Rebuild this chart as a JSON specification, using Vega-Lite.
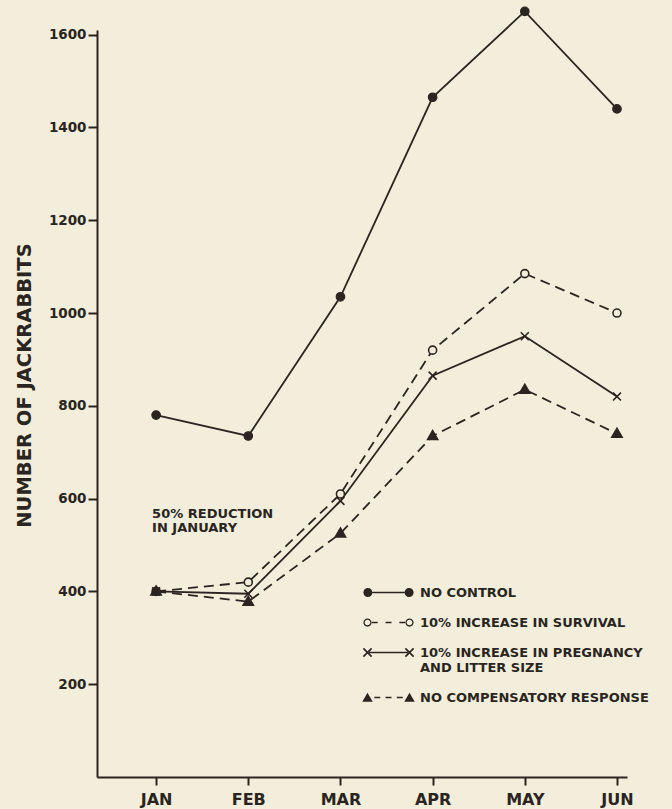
{
  "$schema": "https://vega.github.io/schema/vega-lite/v6.json",
  "autosize": {"type": "none"},
  "padding": {"left": 97, "top": 30, "right": 45, "bottom": 32},
  "width": 530,
  "height": 747,
  "background": "#f3eedb",
  "config": {
    "view": {"stroke": null},
    "font": "DejaVu Sans",
    "axis": {
      "grid": false,
      "domainColor": "#2a2520",
      "domainWidth": 2,
      "tickColor": "#2a2520",
      "tickWidth": 2,
      "labelColor": "#2a2520",
      "labelFont": "DejaVu Sans",
      "labelFontWeight": "bold",
      "titleColor": "#2a2520",
      "titleFont": "DejaVu Sans"
    }
  },
  "data": {
    "values": [
      {"month": "JAN", "series": "NO CONTROL", "value": 780},
      {"month": "FEB", "series": "NO CONTROL", "value": 735},
      {"month": "MAR", "series": "NO CONTROL", "value": 1035},
      {"month": "APR", "series": "NO CONTROL", "value": 1465},
      {"month": "MAY", "series": "NO CONTROL", "value": 1650},
      {"month": "JUN", "series": "NO CONTROL", "value": 1440},
      {"month": "JAN", "series": "10% INCREASE IN SURVIVAL", "value": 400},
      {"month": "FEB", "series": "10% INCREASE IN SURVIVAL", "value": 420},
      {"month": "MAR", "series": "10% INCREASE IN SURVIVAL", "value": 610},
      {"month": "APR", "series": "10% INCREASE IN SURVIVAL", "value": 920},
      {"month": "MAY", "series": "10% INCREASE IN SURVIVAL", "value": 1085},
      {"month": "JUN", "series": "10% INCREASE IN SURVIVAL", "value": 1000},
      {"month": "JAN", "series": "10% INCREASE IN PREGNANCY AND LITTER SIZE", "value": 400},
      {"month": "FEB", "series": "10% INCREASE IN PREGNANCY AND LITTER SIZE", "value": 395},
      {"month": "MAR", "series": "10% INCREASE IN PREGNANCY AND LITTER SIZE", "value": 595},
      {"month": "APR", "series": "10% INCREASE IN PREGNANCY AND LITTER SIZE", "value": 865},
      {"month": "MAY", "series": "10% INCREASE IN PREGNANCY AND LITTER SIZE", "value": 950},
      {"month": "JUN", "series": "10% INCREASE IN PREGNANCY AND LITTER SIZE", "value": 820},
      {"month": "JAN", "series": "NO COMPENSATORY RESPONSE", "value": 400},
      {"month": "FEB", "series": "NO COMPENSATORY RESPONSE", "value": 378},
      {"month": "MAR", "series": "NO COMPENSATORY RESPONSE", "value": 525},
      {"month": "APR", "series": "NO COMPENSATORY RESPONSE", "value": 735},
      {"month": "MAY", "series": "NO COMPENSATORY RESPONSE", "value": 835},
      {"month": "JUN", "series": "NO COMPENSATORY RESPONSE", "value": 740}
    ]
  },
  "encoding": {
    "x": {
      "field": "month",
      "type": "ordinal",
      "sort": ["JAN", "FEB", "MAR", "APR", "MAY", "JUN"],
      "scale": {"type": "point", "padding": 0.375, "align": 0.855},
      "axis": {
        "title": null,
        "labelAngle": 0,
        "labelFontSize": 16,
        "tickSize": 8,
        "labelPadding": 6
      }
    },
    "y": {
      "field": "value",
      "type": "quantitative",
      "scale": {"domain": [0, 1610], "nice": false, "zero": true},
      "axis": {
        "title": "NUMBER OF JACKRABBITS",
        "values": [200, 400, 600, 800, 1000, 1200, 1400, 1600],
        "format": "d",
        "labelFontSize": 13.5,
        "tickSize": 9,
        "labelPadding": 2,
        "titleFontSize": 19.5,
        "titleFontWeight": "bold",
        "titleX": -63,
        "titleY": 355,
        "titleAngle": -90
      }
    }
  },
  "layer": [
    {
      "transform": [{"filter": "datum.series === 'NO CONTROL' || datum.series === '10% INCREASE IN PREGNANCY AND LITTER SIZE'"}],
      "mark": {"type": "line", "color": "#2a2520", "strokeWidth": 1.8},
      "encoding": {"detail": {"field": "series", "type": "nominal"}}
    },
    {
      "transform": [{"filter": "datum.series === '10% INCREASE IN SURVIVAL' || datum.series === 'NO COMPENSATORY RESPONSE'"}],
      "mark": {"type": "line", "color": "#2a2520", "strokeWidth": 1.8, "strokeDash": [10, 6]},
      "encoding": {"detail": {"field": "series", "type": "nominal"}}
    },
    {
      "transform": [{"filter": "datum.series === 'NO CONTROL'"}],
      "mark": {"type": "point", "shape": "circle", "size": 72, "filled": true, "fill": "#2a2520", "stroke": "#2a2520", "strokeWidth": 1.2, "opacity": 1}
    },
    {
      "transform": [{"filter": "datum.series === '10% INCREASE IN SURVIVAL'"}],
      "mark": {"type": "point", "shape": "M-1,0a1,1 0 1,0 2,0a1,1 0 1,0 -2,0Z", "size": 64, "filled": true, "fill": "#f3eedb", "stroke": "#2a2520", "strokeWidth": 1.6, "opacity": 1}
    },
    {
      "transform": [{"filter": "datum.series === '10% INCREASE IN PREGNANCY AND LITTER SIZE'"}],
      "mark": {"type": "point", "shape": "M-0.95,-0.95L0.95,0.95M-0.95,0.95L0.95,-0.95", "size": 70, "filled": false, "stroke": "#2a2520", "strokeWidth": 1.6, "opacity": 1}
    },
    {
      "transform": [{"filter": "datum.series === 'NO COMPENSATORY RESPONSE'"}],
      "mark": {"type": "point", "shape": "M-1.25,0.85L0,-1.3L1.25,0.85Z", "size": 76, "filled": true, "fill": "#2a2520", "stroke": "#2a2520", "strokeWidth": 1.2, "opacity": 1}
    },
    {
      "mark": {"type": "point", "filled": true, "fill": "#2a2520", "opacity": 0, "size": 10},
      "encoding": {
        "shape": {
          "field": "series",
          "type": "nominal",
          "scale": {
            "domain": ["NO CONTROL", "10% INCREASE IN SURVIVAL", "10% INCREASE IN PREGNANCY AND LITTER SIZE", "NO COMPENSATORY RESPONSE"],
            "range": [
              "M-3.35,0a0.6,0.6 0 1,1 1.2,0a0.6,0.6 0 1,1 -1.2,0ZM-2.15,-0.11L2.15,-0.11L2.15,0.11L-2.15,0.11ZM2.15,0a0.6,0.6 0 1,1 1.2,0a0.6,0.6 0 1,1 -1.2,0Z",
              "M-3.35,0a0.55,0.55 0 1,1 1.1,0a0.55,0.55 0 1,1 -1.1,0ZM-3.18,0a0.38,0.38 0 1,0 0.76,0a0.38,0.38 0 1,0 -0.76,0ZM-2.2,-0.11L-1.45,-0.11L-1.45,0.11L-2.2,0.11ZM-0.4,-0.11L0.4,-0.11L0.4,0.11L-0.4,0.11ZM1.45,-0.11L2.2,-0.11L2.2,0.11L1.45,0.11ZM2.25,0a0.55,0.55 0 1,1 1.1,0a0.55,0.55 0 1,1 -1.1,0ZM2.42,0a0.38,0.38 0 1,0 0.76,0a0.38,0.38 0 1,0 -0.76,0Z",
              "M-3.272,-0.628L-2.172,0.472L-2.328,0.628L-3.428,-0.472ZM-3.428,0.472L-2.328,-0.628L-2.172,-0.472L-3.272,0.628ZM-2.6,-0.11L2.6,-0.11L2.6,0.11L-2.6,0.11ZM2.328,-0.628L3.428,0.472L3.272,0.628L2.172,-0.472ZM2.172,0.472L3.272,-0.628L3.428,-0.472L2.328,0.628Z",
              "M-3.5,0.55L-2.8,-0.65L-2.1,0.55ZM-1.9,-0.11L-1.1,-0.11L-1.1,0.11L-1.9,0.11ZM-0.4,-0.11L0.4,-0.11L0.4,0.11L-0.4,0.11ZM1.1,-0.11L1.9,-0.11L1.9,0.11L1.1,0.11ZM2.1,0.55L2.8,-0.65L3.5,0.55Z"
            ]
          },
          "legend": {
            "title": null,
            "orient": "none",
            "direction": "vertical",
            "legendX": 283,
            "legendY": 554,
            "padding": 0,
            "symbolSize": 225,
            "symbolOpacity": 1,
            "symbolFillColor": "#2a2520",
            "labelOffset": 23,
            "labelFont": "DejaVu Sans",
            "labelFontSize": 13,
            "labelFontWeight": "bold",
            "labelColor": "#2a2520",
            "labelLimit": 400,
            "rowPadding": 14,
            "labelExpr": "datum.value === '10% INCREASE IN PREGNANCY AND LITTER SIZE' ? ['10% INCREASE IN PREGNANCY', '        AND LITTER SIZE'] : datum.label"
          }
        }
      }
    },
    {
      "transform": [{"filter": "datum.series === 'NO CONTROL' && datum.month === 'JAN'"}],
      "mark": {
        "type": "text",
        "text": ["50% REDUCTION", "IN JANUARY"],
        "align": "left",
        "baseline": "middle",
        "dx": -4,
        "lineHeight": 14,
        "font": "DejaVu Sans",
        "fontSize": 13,
        "fontWeight": "bold",
        "color": "#2a2520"
      },
      "encoding": {
        "x": {"datum": "JAN"},
        "y": {"datum": 567}
      }
    }
  ]
}
